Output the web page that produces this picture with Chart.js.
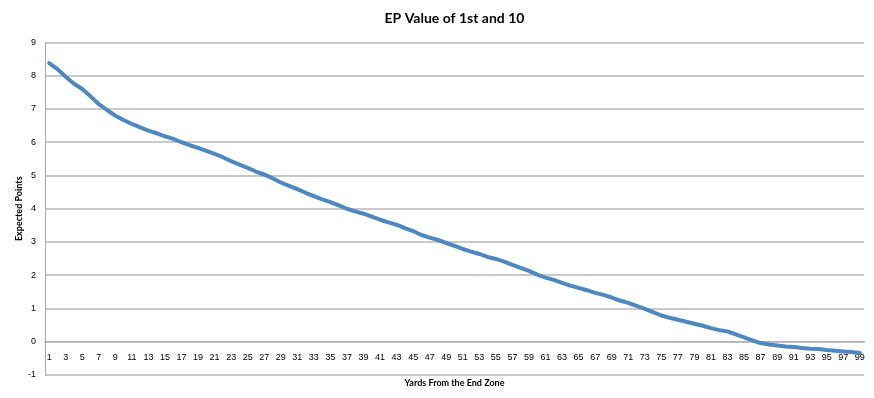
<!DOCTYPE html>
<html>
<head>
<meta charset="utf-8">
<script src="https://cdn.jsdelivr.net/npm/chart.js@4/dist/chart.umd.min.js"></script>
<style>
html,body{margin:0;padding:0;background:#fff;}
#wrap{width:874px;height:398px;}
</style>
</head>
<body>
<div id="wrap"><canvas id="c" width="874" height="398"></canvas></div>
<script>
const categories = [1,2,3,4,5,6,7,8,9,10,11,12,13,14,15,16,17,18,19,20,
  21,22,23,24,25,26,27,28,29,30,31,32,33,34,35,36,37,38,39,40,
  41,42,43,44,45,46,47,48,49,50,51,52,53,54,55,56,57,58,59,60,
  61,62,63,64,65,66,67,68,69,70,71,72,73,74,75,76,77,78,79,80,
  81,82,83,84,85,86,87,88,89,90,91,92,93,94,95,96,97,98,99];

const epValues = [8.38,8.20,7.97,7.76,7.60,7.38,7.15,6.97,6.80,6.67,
  6.55,6.45,6.35,6.27,6.18,6.10,6.00,5.91,5.83,5.74,
  5.65,5.55,5.43,5.33,5.23,5.12,5.03,4.92,4.79,4.69,
  4.59,4.48,4.38,4.28,4.20,4.10,4.00,3.92,3.85,3.76,
  3.67,3.59,3.52,3.42,3.33,3.21,3.13,3.06,2.97,2.88,
  2.79,2.71,2.64,2.55,2.49,2.41,2.31,2.22,2.13,2.02,
  1.93,1.86,1.77,1.69,1.62,1.55,1.47,1.41,1.33,1.24,
  1.17,1.08,0.99,0.89,0.79,0.72,0.66,0.60,0.54,0.48,
  0.41,0.35,0.31,0.22,0.13,0.04,-0.04,-0.08,-0.11,-0.14,
  -0.16,-0.19,-0.21,-0.22,-0.25,-0.27,-0.29,-0.31,-0.34];

const yMin = -1;
const yMax = 9;
const yStep = 1;

const titleText = 'EP Value of 1st and 10';
const xTitleText = 'Yards From the End Zone';
const yTitleText = 'Expected Points';

const titleFont = "Lato, 'Liberation Sans', Arial, sans-serif";
const regular = "'Liberation Sans', Arial, sans-serif";

new Chart(document.getElementById('c').getContext('2d'), {
  type: 'line',
  data: {
    labels: categories,
    datasets: [{
      label: 'EP',
      data: epValues,
      borderColor: '#4d88c2',
      borderWidth: 4,
      pointRadius: 0,
      tension: 0,
      fill: false,
      borderCapStyle: 'round',
      borderJoinStyle: 'round'
    }]
  },
  options: {
    responsive: false,
    animation: false,
    layout: { padding: { left: 0, right: 10, top: 0, bottom: 0 } },
    plugins: {
      legend: { display: false },
      tooltip: { enabled: false },
      title: {
        display: true,
        text: titleText,
        fullSize: false,
        color: '#000',
        font: { family: titleFont, size: 14, weight: 'bold' },
        padding: { top: 10, bottom: 15.7 }
      },
      subtitle: {
        display: true,
        text: xTitleText,
        position: 'bottom',
        fullSize: false,
        color: '#000',
        font: { family: titleFont, size: 9, weight: 'bold' },
        padding: { top: 3, bottom: 9.2 }
      }
    },
    scales: {
      x: {
        position: { y: 0 },
        offset: true,
        grid: { display: false },
        border: { display: true, color: '#b5b5b5', width: 1.5 },
        ticks: {
          autoSkip: false,
          maxRotation: 0,
          minRotation: 0,
          padding: 2,
          color: '#000',
          font: { family: regular, size: 9 },
          callback: function(v, i) { return i % 2 === 0 ? String(categories[i]) : ''; }
        }
      },
      y: {
        min: yMin,
        max: yMax,
        ticks: {
          stepSize: yStep,
          padding: 9,
          color: '#000',
          font: { family: regular, size: 9 }
        },
        grid: { color: '#c9c9c9', lineWidth: 2, drawTicks: false },
        border: { display: true, color: '#a8a8a8', width: 1 },
        title: {
          display: true,
          text: yTitleText,
          color: '#000',
          font: { family: titleFont, size: 9, weight: 'bold' },
          padding: { top: 14, bottom: 0 }
        },
        afterFit: function(scale) { scale.width = 45; }
      }
    }
  }
});
</script>
</body>
</html>
